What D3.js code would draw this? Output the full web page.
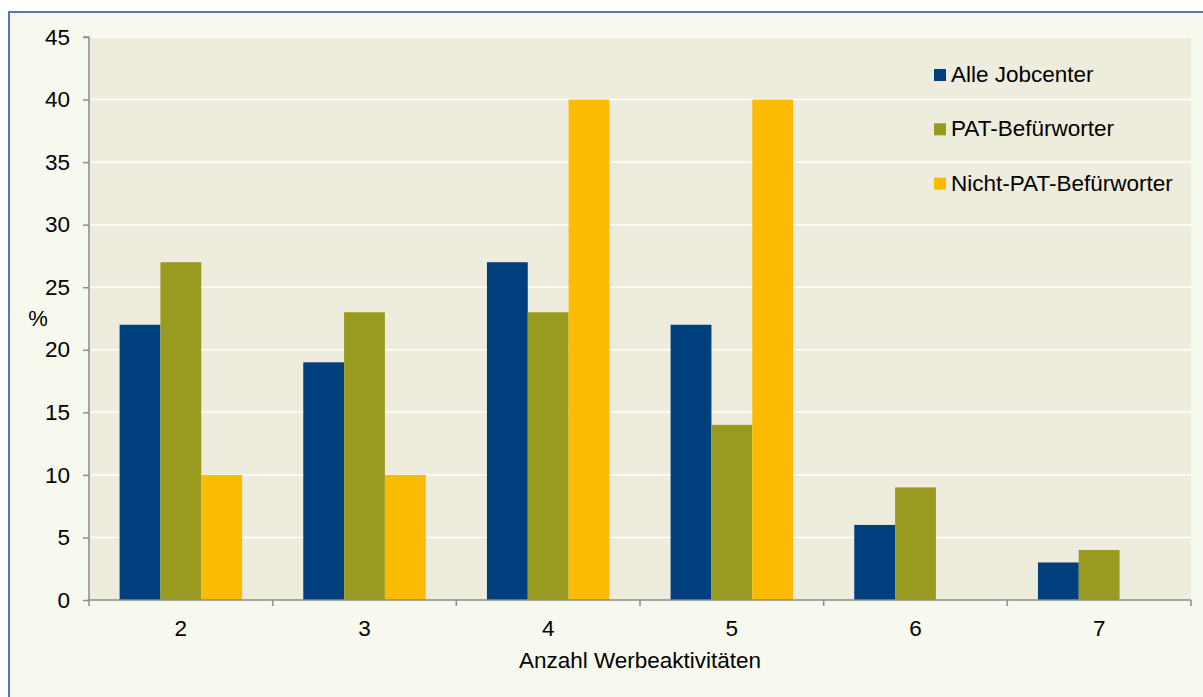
<!DOCTYPE html>
<html>
<head>
<meta charset="utf-8">
<script src="https://cdn.jsdelivr.net/npm/d3@7/dist/d3.min.js"></script>
<style>
  html, body { margin: 0; padding: 0; background: #ffffff; }
  svg { display: block; font-family: "Liberation Sans", Arial, sans-serif; }
</style>
</head>
<body>
<svg id="chart" width="1203" height="697"></svg>
<script>
const categories = ["2", "3", "4", "5", "6", "7"];
const seriesNames = ["Alle Jobcenter", "PAT-Befürworter", "Nicht-PAT-Befürworter"];
const alleJobcenter = [22, 19, 27, 22, 6, 3];
const patBefuerworter = [27, 23, 23, 14, 9, 4];
const nichtPatBefuerworter = [10, 10, 40, 40, null, null];
const seriesColors = ["#003F7D", "#989B20", "#FBBB00"];
const yTicks = [0, 5, 10, 15, 20, 25, 30, 35, 40, 45];
const yLabel = "%";
const xLabel = "Anzahl Werbeaktivitäten";

const seriesValues = [alleJobcenter, patBefuerworter, nichtPatBefuerworter];

const svg = d3.select("#chart");
const plot = { left: 89, right: 1191, top: 37, bottom: 600 };

// outer frame
svg.append("rect")
  .attr("x", 9).attr("y", 12)
  .attr("width", 1210).attr("height", 700)
  .attr("fill", "#F8F9EE")
  .attr("stroke", "#5B76AE")
  .attr("stroke-width", 2);

const x0 = d3.scaleBand().domain(categories).range([plot.left, plot.right]).padding(0);
const x1 = d3.scaleBand().domain(d3.range(seriesNames.length))
  .range([x0.bandwidth() / 6, x0.bandwidth() * 5 / 6]).padding(0);
const y = d3.scaleLinear().domain([0, 45]).range([plot.bottom, plot.top]);

// plot background
svg.append("rect")
  .attr("x", plot.left).attr("y", plot.top)
  .attr("width", plot.right - plot.left).attr("height", plot.bottom - plot.top)
  .attr("fill", "#EEECDC");

// gridlines
svg.append("g").selectAll("line")
  .data(yTicks.filter(t => t > 0))
  .join("line")
  .attr("x1", plot.left).attr("x2", plot.right)
  .attr("y1", d => y(d)).attr("y2", d => y(d))
  .attr("stroke", "#ffffff").attr("stroke-width", 1.5);

// bars
const groups = svg.append("g").selectAll("g")
  .data(categories)
  .join("g")
  .attr("transform", d => `translate(${x0(d)},0)`);

groups.selectAll("rect")
  .data((c, ci) => seriesValues.map((vals, si) => ({ si, v: vals[ci] })).filter(d => d.v != null && d.v > 0))
  .join("rect")
  .attr("x", d => x1(d.si))
  .attr("width", x1.bandwidth())
  .attr("y", d => y(d.v))
  .attr("height", d => y(0) - y(d.v))
  .attr("fill", d => seriesColors[d.si]);

// y axis
const yAxis = svg.append("g")
  .attr("transform", `translate(${plot.left},0)`)
  .call(d3.axisLeft(y).tickValues(yTicks).tickSize(6).tickPadding(13).tickFormat(d3.format("d")));
yAxis.select(".domain").attr("stroke", "#8C8C8C").attr("stroke-width", 1.5).attr("d", `M-6,${plot.top}H0V${plot.bottom}`);
yAxis.selectAll(".tick line").attr("stroke", "#8C8C8C").attr("stroke-width", 1.5);
yAxis.selectAll(".tick text").attr("font-size", "22.5px").attr("fill", "#000").attr("font-family", "Liberation Sans, Arial, sans-serif");

// x axis
const xAxisG = svg.append("g").attr("transform", `translate(0,${plot.bottom})`);
xAxisG.append("line")
  .attr("x1", plot.left).attr("x2", plot.right)
  .attr("y1", 0).attr("y2", 0)
  .attr("stroke", "#8C8C8C").attr("stroke-width", 1.5);
const boundaries = categories.map(c => x0(c)).concat([x0(categories[categories.length - 1]) + x0.bandwidth()]);
xAxisG.selectAll("line.tk")
  .data(boundaries)
  .join("line")
  .attr("class", "tk")
  .attr("x1", d => d).attr("x2", d => d)
  .attr("y1", 0).attr("y2", 6)
  .attr("stroke", "#8C8C8C").attr("stroke-width", 1.5);
xAxisG.selectAll("text")
  .data(categories)
  .join("text")
  .attr("x", d => x0(d) + x0.bandwidth() / 2)
  .attr("y", 36)
  .attr("text-anchor", "middle")
  .attr("font-size", "22.5px")
  .attr("fill", "#000")
  .text(d => d);

// axis titles
svg.append("text")
  .attr("x", 640).attr("y", 668)
  .attr("text-anchor", "middle")
  .attr("font-size", "22.5px")
  .attr("fill", "#000")
  .text(xLabel);
svg.append("text")
  .attr("x", 38).attr("y", 326)
  .attr("text-anchor", "middle")
  .attr("font-size", "22px")
  .attr("fill", "#000")
  .text(yLabel);

// legend
const legend = svg.append("g").attr("transform", "translate(934,69)");
const li = legend.selectAll("g")
  .data(seriesNames)
  .join("g")
  .attr("transform", (d, i) => `translate(0,${i * 54.3})`);
li.append("rect")
  .attr("width", 12).attr("height", 12)
  .attr("fill", (d, i) => seriesColors[i]);
li.append("text")
  .attr("x", 17).attr("y", 13)
  .attr("font-size", "22.5px")
  .attr("fill", "#000")
  .text(d => d);
</script>
</body>
</html>
